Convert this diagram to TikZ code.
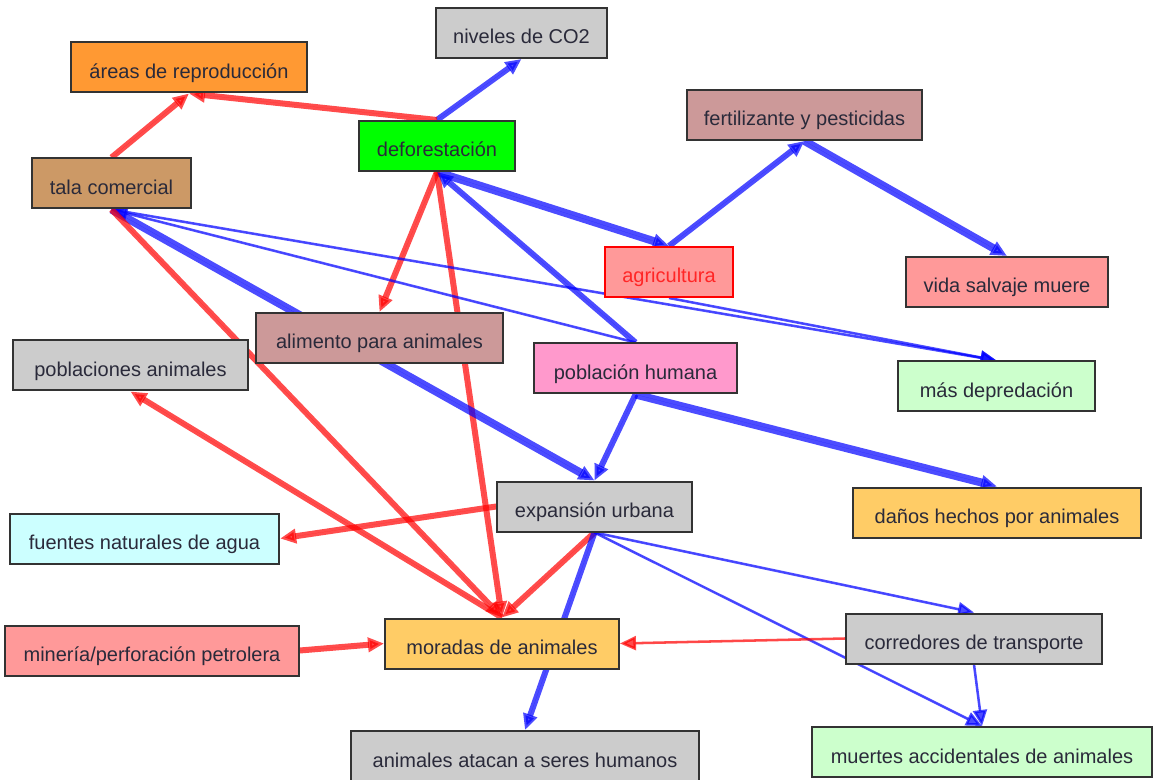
\documentclass[tikz,border=0pt]{standalone}
\usepackage{fontspec}
\setmainfont{Liberation Sans}
\usetikzlibrary{arrows.meta,backgrounds}
\definecolor{cgray}{HTML}{CCCCCC}
\definecolor{corange}{HTML}{FF9933}
\definecolor{cgreen}{HTML}{00FF00}
\definecolor{crose}{HTML}{CC9999}
\definecolor{cbrown}{HTML}{CC9966}
\definecolor{csalmon}{HTML}{FF9999}
\definecolor{cpink}{HTML}{FF99CC}
\definecolor{cmint}{HTML}{CCFFCC}
\definecolor{cyellow}{HTML}{FFCC66}
\definecolor{ccyan}{HTML}{CCFFFF}
\definecolor{cborder}{HTML}{333333}
\definecolor{ctext}{HTML}{2A2A3A}
\begin{document}
\begin{tikzpicture}[x=0.75pt,y=-0.75pt,
  box/.style={draw=cborder,line width=1.5pt,minimum height=37.5pt,inner sep=0pt,
    text height=16.5pt,text depth=0pt,
    text=ctext,font=\fontsize{15}{18}\selectfont},
  posedge/.style={draw=red,draw opacity=0.7,fill=red,fill opacity=0.7,
    -{Triangle[length=12pt,width=10.5pt]}},
  negedge/.style={draw=blue,draw opacity=0.7,fill=blue,fill opacity=0.7,
    -{Triangle[length=12pt,width=10.5pt]}},
  wA/.style={line width=6pt},
  wB/.style={line width=4.5pt},
  wC/.style={line width=1.9pt}]
\useasboundingbox (0,0) rectangle (1153,780);

\node[box,fill=cgray,minimum width=128pt] (co2) at (521.5,33) {niveles de CO2};
\node[box,fill=corange,minimum width=177pt] (areas) at (189,67.5) {áreas de reproducción};
\node[box,fill=cgreen,minimum width=117pt] (defo) at (437,146) {deforestación};
\node[box,fill=crose,minimum width=176pt] (fert) at (804.5,115) {fertilizante y pesticidas};
\node[box,fill=cbrown,minimum width=119pt] (tala) at (111.5,183.5) {tala comercial};
\node[box,fill=csalmon,draw=red,text=red!85!white,minimum width=96pt] (agri) at (669,272) {agricultura};
\node[box,fill=csalmon,minimum width=151.5pt] (vida) at (1007,282) {vida salvaje muere};
\node[box,fill=crose,minimum width=185pt] (alim) at (379.5,338) {alimento para animales};
\node[box,fill=cgray,minimum width=176pt] (poba) at (130.5,365.5) {poblaciones animales};
\node[box,fill=cpink,minimum width=152pt] (pobh) at (635.5,368.5) {población humana};
\node[box,fill=cmint,minimum width=148pt] (mas) at (996.5,386.5) {más depredación};
\node[box,fill=cgray,minimum width=146pt] (exp) at (594.5,506.5) {expansión urbana};
\node[box,fill=cyellow,minimum width=216pt] (danos) at (997,512.5) {daños hechos por animales};
\node[box,fill=ccyan,minimum width=202pt] (fuentes) at (144.5,538.5) {fuentes naturales de agua};
\node[box,fill=csalmon,minimum width=220pt] (mineria) at (152,650.5) {minería/perforación petrolera};
\node[box,fill=cyellow,minimum width=175.5pt] (moradas) at (502,643.5) {moradas de animales};
\node[box,fill=cgray,minimum width=192pt] (corr) at (974,638.5) {corredores de transporte};
\node[box,fill=cgray,minimum width=261pt] (ataca) at (525,756) {animales atacan a seres humanos};
\node[box,fill=cmint,minimum width=255pt] (muertes) at (982,752) {muertes accidentales de animales};

\begin{scope}[on background layer]
\draw[negedge,wB] (defo.north) -- (co2.south);
\draw[posedge,wB] (defo.north) -- (areas.south);
\draw[posedge,wB] (tala.north) -- (areas.south);
\draw[negedge,wA] (defo.south) -- (agri.north);
\draw[posedge,wB] (defo.south) -- (alim.north);
\draw[posedge,wB] (defo.south) -- (moradas.north);
\draw[negedge,wB] (pobh.north) -- (defo.south);
\draw[negedge,wB] (agri.north) -- (fert.south);
\draw[negedge,wA] (fert.south) -- (vida.north);
\draw[negedge,wC] (tala.south) -- (mas.north);
\draw[negedge,wC] (pobh.north) -- (tala.south);
\draw[negedge,wC] (agri.south) -- (mas.north);
\draw[negedge,wA] (tala.south) -- (exp.north);
\draw[posedge,wB] (tala.south) -- (moradas.north);
\draw[posedge,wB] (moradas.north) -- (poba.south);
\draw[posedge,wB] (exp.west) -- (fuentes.east);
\draw[posedge,wB] (exp.south) -- (moradas.north);
\draw[negedge,wB] (exp.south) -- (ataca.north);
\draw[negedge,wC] (exp.south) -- (corr.north);
\draw[negedge,wC] (exp.south) -- (muertes.north);
\draw[negedge,wC] (corr.south) -- (muertes.north);
\draw[posedge,wC] (corr.west) -- (moradas.east);
\draw[posedge,wB] (mineria.east) -- (moradas.west);
\draw[negedge,wB] (pobh.south) -- (exp.north);
\draw[negedge,wA] (pobh.south) -- (danos.north);
\end{scope}
\end{tikzpicture}
\end{document}
